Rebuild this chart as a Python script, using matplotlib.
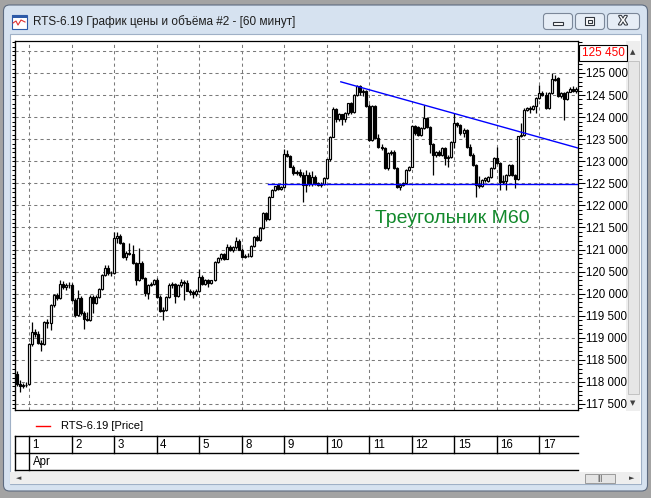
import matplotlib
matplotlib.use("Agg")
import matplotlib.pyplot as plt
import matplotlib.patheffects as pe
from matplotlib.patches import Rectangle, FancyBboxPatch
from matplotlib.ticker import MultipleLocator, FuncFormatter, NullFormatter
import numpy as np

plt.rcParams['font.family'] = ['Liberation Sans', 'DejaVu Sans']

# ---- data (hourly candles, RTS-6.19, Mar 29 evening .. Apr 17) ----
day_labels = ['1', '2', '3', '4', '5', '8', '9', '10', '11', '12', '15', '16', '17']
month_label = 'Apr'
bars_per_day = 14
bars_before_first_day = 4

opens = [118180, 117950, 117900, 117940,
         117950, 118860, 119140, 119080, 118890, 118860, 119360, 119330, 119740, 119970, 119900, 120230, 120140, 120200,
         120190, 119860, 119520, 119900, 119560, 119430, 119400, 119930, 119790, 119930, 120100, 120420, 120580, 120460,
         120470, 121250, 121300, 121140, 120820, 120930, 120900, 120690, 120310, 120690, 120350, 120020, 120200, 120210,
         120300, 119930, 119610, 119620, 119930, 120200, 120210, 119940, 120200, 120270, 120250, 120070, 120040, 120000,
         120060, 120370, 120230, 120300, 120250, 120300, 120720, 120800, 120900, 120790, 121050, 121000, 121060, 121200,
         121000, 120840, 120860, 120850, 121080, 121290, 121220, 121480, 121820, 121700, 122200, 122350, 122460, 122380,
         122410, 123160, 123120, 122880, 122730, 122750, 122700, 122460, 122690, 122480, 122650, 122500, 122460, 122490,
         122610, 123040, 123560, 124180, 123950, 124060, 123950, 124100, 124310, 124120, 124500, 124700, 124560, 124600,
         124250, 123480, 124250, 123520, 123330, 123300, 122840, 123180, 123200, 122840, 122420, 122460, 122510, 122800,
         122880, 123800, 123780, 123600, 123750, 123970, 123780, 123400, 123140, 123220, 123140, 123290, 123070, 123100,
         123440, 123860, 123820, 123630, 123710, 123330, 123140, 122920, 122460, 122430, 122580, 122560, 122650, 122840,
         123070, 122950, 122540, 122560, 122690, 122920, 122690, 122590, 123570, 123600, 124160, 124200, 124180, 124250,
         124430, 124540, 124500, 124200, 124540, 124860, 124880, 124480, 124540, 124400, 124580, 124640, 124590]
highs = [118240, 118050, 117980, 118000,
         118880, 119360, 119200, 119150, 118950, 119380, 119420, 119760, 119990, 120010, 120310, 120280, 120240, 120260,
         120240, 119900, 120080, 119950, 119600, 119590, 119960, 119980, 119960, 120130, 120440, 120640, 120640, 120520,
         121400, 121400, 121360, 121180, 120960, 121140, 121100, 120720, 121040, 120740, 120380, 120220, 120260, 120340,
         120350, 119960, 119700, 119950, 120240, 120260, 120240, 120230, 120330, 120300, 120300, 120100, 120090, 120100,
         120550, 120420, 120330, 120330, 120320, 120740, 120840, 120930, 120920, 121120, 121100, 121080, 121290, 121230,
         121040, 120900, 120920, 121100, 121300, 121320, 121500, 121840, 121860, 122220, 122370, 122450, 122480, 122440,
         123270, 123250, 123150, 122910, 122800, 122820, 122750, 122810, 122750, 122780, 122680, 122530, 122520, 122640,
         123060, 123580, 124220, 124200, 124100, 124080, 124120, 124330, 124350, 124520, 124730, 124720, 124640, 124620,
         124300, 124280, 124280, 123620, 123400, 123320, 123220, 123260, 123250, 122880, 122500, 122530, 122820, 122890,
         123830, 123820, 123800, 123780, 124270, 124000, 123800, 123420, 123240, 123260, 123320, 123320, 123150, 123460,
         124090, 123900, 123850, 123760, 123730, 123400, 123180, 122940, 122660, 122600, 122640, 122660, 122860, 123100,
         123330, 122980, 122700, 122720, 122940, 122940, 122720, 123580, 123870, 124200, 124220, 124260, 124270, 124450,
         124730, 124600, 124560, 124560, 124990, 124950, 124900, 124560, 124560, 124600, 124690, 124700, 124680]
lows = [117900, 117780, 117860, 117880,
        117930, 118820, 119020, 118850, 118690, 118840, 119230, 119180, 119700, 119850, 119880, 120100, 120080, 120120,
        119830, 119480, 119500, 119520, 119200, 119380, 119380, 119560, 119760, 119900, 120080, 120400, 120430, 120400,
        120450, 121150, 121130, 120800, 120770, 120880, 120680, 120200, 120290, 120330, 119950, 119880, 120170, 120190,
        119900, 119580, 119400, 119600, 119900, 120130, 119790, 119920, 120150, 119860, 120050, 119980, 119900, 119950,
        120040, 120200, 120200, 120160, 120220, 120280, 120700, 120760, 120770, 120780, 120960, 120950, 121020, 120980,
        120830, 120800, 120820, 120830, 121060, 121200, 121200, 121460, 121640, 121680, 122180, 122330, 122340, 122350,
        122400, 123090, 122860, 122700, 122690, 122640, 122080, 122300, 122440, 122440, 122470, 122430, 122420, 122470,
        122590, 123000, 123540, 123900, 123920, 123820, 123900, 124050, 124080, 124100, 124480, 124500, 124480, 124220,
        123460, 123450, 123500, 123300, 123250, 122820, 122800, 123140, 122820, 122400, 122350, 122440, 122490, 122780,
        122860, 123600, 123580, 123580, 123730, 123760, 123180, 122690, 123100, 123120, 123120, 122910, 122880, 123080,
        123300, 123780, 123600, 123540, 123300, 123120, 122900, 122200, 122400, 122410, 122540, 122540, 122630, 122820,
        122930, 122350, 122480, 122350, 122670, 122660, 122390, 122570, 123540, 123580, 124130, 124090, 124160, 124090,
        124400, 124470, 124180, 124180, 124520, 124820, 124460, 124440, 123940, 124380, 124560, 124570, 124540]
closes = [117950, 117900, 117940, 117920,
          118860, 119140, 119080, 118890, 118860, 119360, 119330, 119740, 119970, 119900, 120230, 120140, 120200, 120190,
          119860, 119520, 119900, 119560, 119430, 119400, 119930, 119790, 119930, 120100, 120420, 120580, 120460, 120470,
          121250, 121300, 121140, 120820, 120930, 120900, 120690, 120310, 120690, 120350, 120020, 120200, 120210, 120320,
          119930, 119610, 119620, 119930, 120200, 120210, 119940, 120200, 120270, 120250, 120070, 120040, 120000, 120060,
          120370, 120230, 120300, 120250, 120300, 120720, 120800, 120900, 120790, 121050, 121000, 121060, 121200, 121000,
          120840, 120860, 120850, 121080, 121290, 121220, 121480, 121820, 121700, 122200, 122350, 122430, 122380, 122410,
          123160, 123120, 122880, 122730, 122750, 122700, 122460, 122690, 122480, 122650, 122500, 122460, 122490, 122610,
          123040, 123560, 124180, 123950, 124060, 123950, 124100, 124310, 124120, 124500, 124700, 124560, 124600, 124250,
          123480, 124250, 123520, 123330, 123300, 122840, 123180, 123200, 122840, 122420, 122460, 122510, 122800, 122880,
          123800, 123630, 123600, 123750, 123970, 123780, 123400, 123140, 123220, 123140, 123290, 123070, 123100, 123440,
          123860, 123820, 123630, 123710, 123330, 123140, 122920, 122460, 122430, 122580, 122610, 122650, 122840, 123070,
          122950, 122540, 122560, 122690, 122920, 122690, 122590, 123570, 123600, 124160, 124200, 124180, 124250, 124430,
          124540, 124500, 124200, 124540, 124860, 124840, 124480, 124540, 124400, 124580, 124640, 124590, 124630]

# drawn objects on the chart
resistance_x = [106.6, 184.7]
resistance_y = [124800, 123300]
support_x = [82.7, 184.7]
support_y = [122480, 122480]
note_text = 'Треугольник M60'
note_x, note_y = 117.8, 121710
last_price_label = 125450

# ---- figure ----
W, H = 651, 498
fig = plt.figure(figsize=(W / 100, H / 100), dpi=100, facecolor='#a3a3a3')

bg = fig.add_axes([0, 0, 1, 1], zorder=0)
bg.set_xlim(0, W)
bg.set_ylim(H, 0)
bg.axis('off')

# window frame
bg.add_patch(FancyBboxPatch((3.5, 5), 644, 486, boxstyle='round,pad=0,rounding_size=6',
                            fc='#d6e2f0', ec='#5d6b80', lw=0.8))
bg.add_patch(Rectangle((9.5, 33.5), 631, 450, fc='white', ec='#9fb0c6', lw=0.8))
# icon + title
bg.add_patch(Rectangle((11.5, 14.5), 15, 14, fc='white', ec='#2d5aa8', lw=0.8))
bg.add_patch(Rectangle((11.5, 14.5), 15, 3, fc='#2d5aa8', ec='none'))
bg.plot([13, 16, 18, 21, 25], [23, 21, 25, 20, 22], color='#e03030', lw=0.8)
bg.text(33, 21.5, 'RTS-6.19 График цены и объёма #2 - [60 минут]', fontsize=8.5,
        va='center', ha='left', color='#1e1e1e')
# caption buttons
for bx, bw in [(543, 29), (575, 29), (607, 32)]:
    bg.add_patch(FancyBboxPatch((bx + 0.5, 13.5), bw, 16, boxstyle='round,pad=0,rounding_size=3',
                                fc='#e6edf6', ec='#7b8799', lw=0.8))
bg.add_patch(Rectangle((553, 22), 10, 3, fc='white', ec='#30353d', lw=0.8))
bg.add_patch(Rectangle((585, 17), 9, 8, fc='white', ec='#30353d', lw=0.8))
bg.add_patch(Rectangle((587.5, 19.5), 4, 3, fc='white', ec='#30353d', lw=0.8))
bg.text(623, 21.5, 'X', fontsize=9, fontweight='bold', color='white', ha='center', va='center',
        path_effects=[pe.withStroke(linewidth=1.5, foreground='#30353d')])

# vertical scrollbar
bg.add_patch(Rectangle((626, 41), 14, 370, fc='#eeeeee', ec='none'))
bg.add_patch(Rectangle((627.5, 61), 11, 333, fc='#e6e6e6', ec='#c2c2c2', lw=0.7))
bg.text(633, 52, '▲', fontsize=5, ha='center', va='center', color='#404040', family='DejaVu Sans')
bg.text(633, 403, '▼', fontsize=5, ha='center', va='center', color='#404040', family='DejaVu Sans')
# horizontal scrollbar
bg.add_patch(Rectangle((10, 472), 630, 12, fc='#eeeeee', ec='none'))
bg.add_patch(Rectangle((585, 473.5), 30, 9, fc='#e4e4e4', ec='#9a9a9a', lw=0.7))
bg.text(600, 478, '|||', fontsize=5, ha='center', va='center', color='#555555')
bg.text(18.5, 478, '◄', fontsize=5, ha='center', va='center', color='#404040', family='DejaVu Sans')
bg.text(632, 478, '►', fontsize=5, ha='center', va='center', color='#404040', family='DejaVu Sans')

# legend
bg.plot([36, 50], [426, 426], color='red', lw=1)
bg.text(61, 426, 'RTS-6.19 [Price]', fontsize=8, va='center', ha='left', color='black')

# ---- price axes ----
left, right, top, bottom = 15, 578, 41, 410
ax = fig.add_axes([left / W, 1 - bottom / H, (right - left) / W, (bottom - top) / H], zorder=2)
ax.set_facecolor('white')

n = len(closes)
idx = np.arange(n)
o = np.array(opens)
h = np.array(highs)
l = np.array(lows)
c = np.array(closes)
up = c >= o
body_lo = np.minimum(o, c)
body_h = np.maximum(np.abs(c - o), 12)

ax.vlines(idx, l, h, color='black', lw=0.9, zorder=3)
ax.bar(idx[up], body_h[up], bottom=body_lo[up], width=0.66, fc='white', ec='black', lw=0.85, zorder=4)
ax.bar(idx[~up], body_h[~up], bottom=body_lo[~up], width=0.66, fc='black', ec='black', lw=0.85, zorder=4)

ax.plot(resistance_x, resistance_y, color='#0000ff', lw=1, zorder=5)
ax.plot(support_x, support_y, color='#0000ff', lw=1, zorder=5)
ax.text(note_x, note_y, note_text, color='#12892c', fontsize=14, va='center', ha='left', zorder=6)

day_starts = [bars_before_first_day + k * bars_per_day for k in range(len(day_labels))]
ax.set_xlim(-0.7, 184.7)
ax.set_ylim(117364, 125725)
ax.set_xticks(day_starts)
ax.tick_params(axis='x', length=0, labelbottom=False)
ax.yaxis.set_major_locator(MultipleLocator(500))
ax.yaxis.set_minor_locator(MultipleLocator(100))
ax.yaxis.tick_right()
ax.yaxis.set_major_formatter(FuncFormatter(
    lambda v, p: '' if v > 125400 else f'{int(v):,}'.replace(',', ' ')))
ax.tick_params(axis='y', which='major', length=5, width=0.75, pad=1, labelsize=8.3)
ax.tick_params(axis='y', which='minor', length=2.9, width=0.75)
ax.grid(True, which='major', color='#7a7a7a', lw=0.75, ls=(0, (3, 3)))
ax.set_axisbelow(True)
for s in ax.spines.values():
    s.set_linewidth(0.9)

sec = ax.secondary_yaxis('left')
sec.yaxis.set_major_locator(MultipleLocator(100))
sec.yaxis.set_major_formatter(NullFormatter())
sec.tick_params(length=2.5, width=0.75)

ax.text(1 + 3.5 / (right - left), last_price_label, f'{last_price_label:,}'.replace(',', ' '),
        transform=ax.get_yaxis_transform(), color='red', fontsize=8.5, va='center', ha='left',
        bbox=dict(boxstyle='square,pad=0.18', fc='white', ec='black', lw=0.8), zorder=7, clip_on=False)

# ---- date table ----
t_top, t_bot = 436, 470
tx = fig.add_axes([left / W, 1 - t_bot / H, (right - left) / W, (t_bot - t_top) / H], zorder=2)
tx.set_xlim(ax.get_xlim())
tx.set_ylim(0, 2)
tx.axis('off')
for yy in (0, 1, 2):
    tx.plot([-0.7, 184.7], [yy, yy], color='black', lw=1, clip_on=False)
tx.plot([-0.7, -0.7], [0, 2], color='black', lw=1, clip_on=False)
for k, (d0, lab) in enumerate(zip(day_starts, day_labels)):
    y0 = 0 if k == 0 else 1
    tx.plot([d0, d0], [y0, 2], color='black', lw=1, clip_on=False)
    tx.text(d0 + 1.1, 1.5, lab, fontsize=8.3, va='center', ha='left')
tx.text(day_starts[0] + 1.1, 0.5, month_label, fontsize=8.3, va='center', ha='left')

fig.savefig('out.png', dpi=100, facecolor=fig.get_facecolor())
